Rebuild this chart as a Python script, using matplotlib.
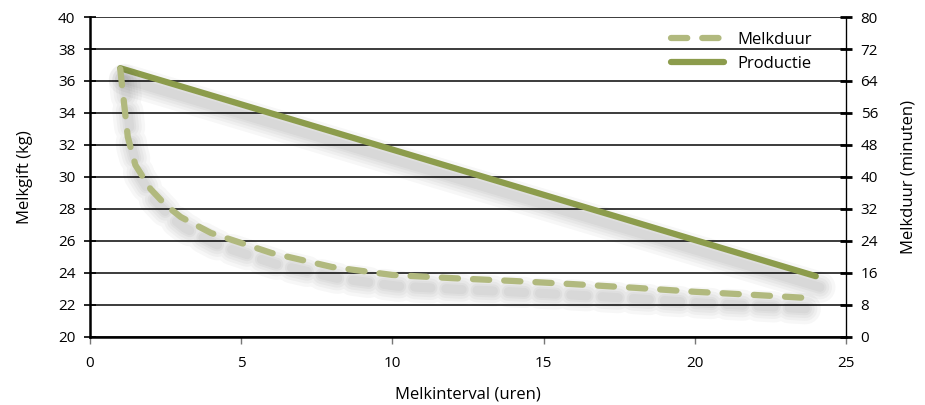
import numpy as np
import matplotlib
matplotlib.use("Agg")
import matplotlib.pyplot as plt
import matplotlib.patheffects as pe

# data
interval_prod = [1, 24]
productie = [36.8, 23.8]          # kg, left axis

interval_duur = [1, 1.25, 1.5, 2, 2.5, 3, 4, 5, 6, 8, 10, 12, 14, 16, 18, 20, 22, 23.6]
melkduur = [67, 50, 43, 37, 33, 30, 26, 23.5, 21, 17.5, 15.5, 14.7, 14, 13.2, 12.3, 11.3, 10.5, 9.8]  # minutes, right axis

left_ticks = np.arange(20, 41, 2)
right_ticks = np.arange(0, 81, 8)
x_ticks = np.arange(0, 26, 5)

c_prod = "#8c9c4c"
c_duur = "#b1b97e"

plt.rcParams["font.family"] = ["Open Sans", "DejaVu Sans"]

fig = plt.figure(figsize=(9.25, 4.05), dpi=100)
ax = fig.add_axes([0.0973, 0.168, 0.8173, 0.79])
ax2 = ax.twinx()

# soft blurred shadow under the lines, built from a stack of wide faint lines
def shadow(lw):
    effects = []
    for w in [lw + 18, lw + 13, lw + 9, lw + 5, lw + 2]:
        effects.append(pe.SimpleLineShadow(offset=(3, -8), shadow_color="black", alpha=0.03, linewidth=w))
    effects.append(pe.Normal())
    return effects

# gridlines
for t in left_ticks:
    ax.axhline(t, color="#1a1a1a", lw=1.2, zorder=1)

ax.plot(interval_prod, productie, color=c_prod, lw=4.5, solid_capstyle="round",
        zorder=3, path_effects=shadow(4.5))
ax2.plot(interval_duur, melkduur, color=c_duur, lw=4.5, dashes=(2.6, 2.4),
         dash_capstyle="round", zorder=3, path_effects=shadow(4.5))

ax.set_xlim(0, 25)
ax.set_ylim(20, 40)
ax2.set_ylim(0, 80)
ax.set_xticks(x_ticks)
ax.set_yticks(left_ticks)
ax2.set_yticks(right_ticks)

ax.spines["top"].set_visible(False)
ax2.spines["top"].set_visible(False)
ax.spines["left"].set_linewidth(1.8)
ax.spines["bottom"].set_linewidth(1.8)
ax2.spines["left"].set_visible(False)
ax2.spines["bottom"].set_visible(False)
ax2.spines["right"].set_linewidth(0.9)

ax.tick_params(axis="y", direction="inout", length=9, width=1.2, labelsize=11, pad=6)
ax.tick_params(axis="x", direction="out", length=5, width=1, color="#777", labelsize=11, pad=9)
ax2.tick_params(axis="y", direction="inout", length=9, width=2, labelsize=11, pad=6)

ax.set_xlabel("Melkinterval (uren)", fontsize=12, labelpad=11)
ax.set_ylabel("Melkgift (kg)", fontsize=12, labelpad=18)
ax2.set_ylabel("Melkduur (minuten)", fontsize=12, labelpad=16)

# legend in the upper right corner
h1 = plt.Line2D([], [], color=c_duur, lw=4.5, dashes=(2.6, 2.4), dash_capstyle="round")
h2 = plt.Line2D([], [], color=c_prod, lw=4.5, solid_capstyle="round")
ax2.legend([h1, h2], ["Melkduur", "Productie"], loc="upper right", bbox_to_anchor=(0.975, 1.0),
           frameon=False, fontsize=12, handlelength=3.2, labelspacing=0.45)

ax.set_zorder(ax2.get_zorder() - 1)
ax2.patch.set_visible(False)

fig.savefig("out.png", dpi=100)
